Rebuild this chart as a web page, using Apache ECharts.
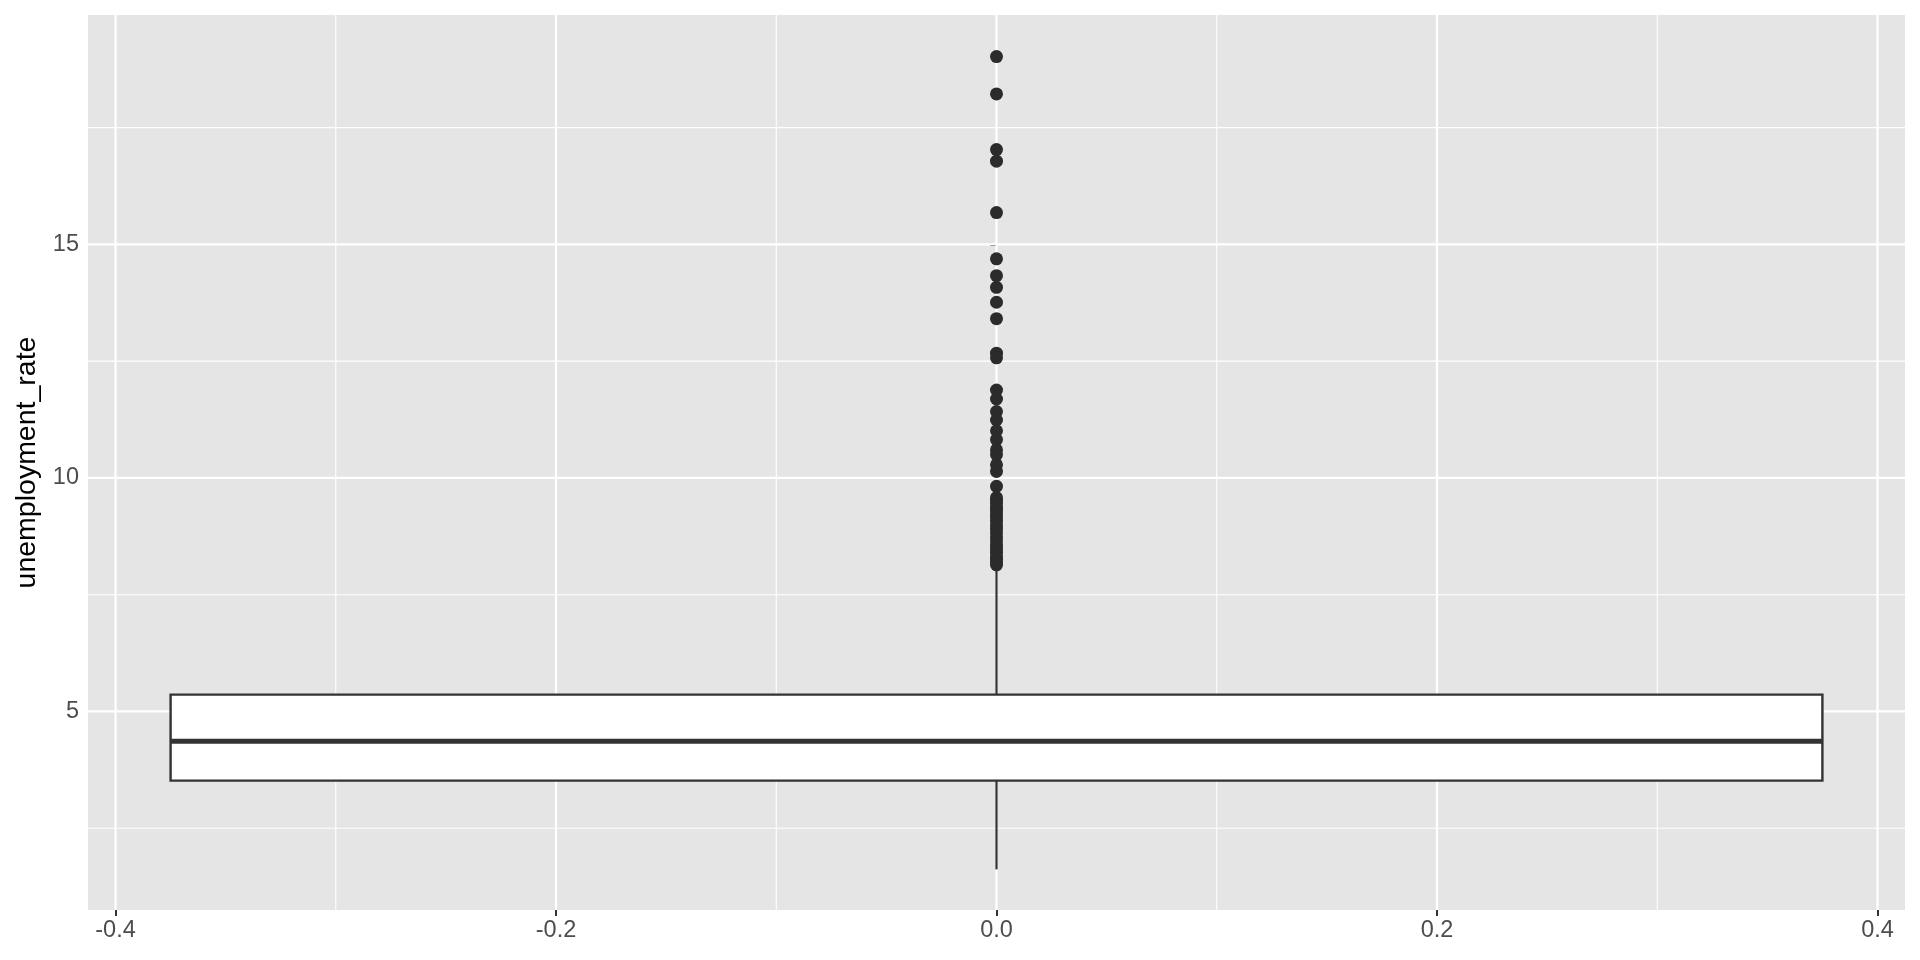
<!DOCTYPE html>
<html><head><meta charset="utf-8">
<script src="https://cdn.jsdelivr.net/npm/echarts@6/dist/echarts.min.js"></script>
<style>html,body{margin:0;padding:0;background:#fff}#c{width:1920px;height:960px}</style>
</head><body><div id="c"></div><script>
// box statistics: lower whisker, Q1, median, Q3, upper whisker
const boxStats = [1.62, 3.52, 4.36, 5.36, 8.05];
const boxX = 0;
const outliers = [19.02, 18.22, 17.03, 16.78, 15.68, 14.69, 14.33, 14.08, 13.76, 13.41,
  12.67, 12.57, 11.88, 11.69, 11.42, 11.24, 11.01, 10.82, 10.60, 10.50, 10.28, 10.14, 9.82,
  9.58, 9.52, 9.45, 9.38, 9.31, 9.22, 9.15, 9.07, 8.98, 8.91, 8.83, 8.74, 8.66, 8.57, 8.49,
  8.41, 8.33, 8.26, 8.19, 8.14];
const xTicks = [-0.4, -0.2, 0, 0.2, 0.4];
const xMinor = [-0.3, -0.1, 0.1, 0.3];
const yTicks = [5, 10, 15];
const yMinor = [2.5, 7.5, 12.5, 17.5];
const yTitle = 'unemployment_rate';

const FONT = '"Liberation Sans", Arial, Helvetica, sans-serif';
const chart = echarts.init(document.getElementById('c'), null, {renderer: 'canvas'});

const gridData = [];
xTicks.forEach(v => gridData.push(['x', v, 'major']));
xMinor.forEach(v => gridData.push(['x', v, 'minor']));
yTicks.forEach(v => gridData.push(['y', v, 'major']));
yMinor.forEach(v => gridData.push(['y', v, 'minor']));

chart.setOption({
  animation: false,
  backgroundColor: '#ffffff',
  grid: {left: 88, right: 15, top: 15, bottom: 50, show: true, backgroundColor: '#E5E5E5', borderWidth: 0},
  xAxis: {
    type: 'value', min: -0.4125, max: 0.4125,
    axisLine: {show: false},
    splitLine: {show: false},
    axisTick: {show: true, customValues: xTicks, length: 6, lineStyle: {color: '#333333', width: 2}},
    axisLabel: {customValues: xTicks, color: '#4D4D4D', fontSize: 23.5, fontFamily: FONT, margin: 9,
      formatter: v => v.toFixed(1)}
  },
  yAxis: {
    type: 'value', min: 0.75, max: 19.91,
    name: yTitle, nameLocation: 'middle', nameGap: 46, nameRotate: 90,
    nameTextStyle: {color: '#000000', fontSize: 28.5, fontFamily: FONT},
    axisLine: {show: false},
    splitLine: {show: false},
    axisTick: {show: true, customValues: yTicks, length: 6, lineStyle: {color: '#333333', width: 2}},
    axisLabel: {customValues: yTicks, color: '#4D4D4D', fontSize: 23.5, fontFamily: FONT, margin: 9,
      formatter: v => String(v)}
  },
  series: [
    {
      type: 'custom', silent: true, z: 1,
      data: gridData.map((d, i) => [i]),
      renderItem: (params, api) => {
        const d = gridData[params.dataIndex];
        const cs = params.coordSys;
        const w = d[2] === 'major' ? 2.2 : 1.1;
        if (d[0] === 'x') {
          const x = api.coord([d[1], 0])[0];
          return {type: 'line', shape: {x1: x, y1: cs.y, x2: x, y2: cs.y + cs.height},
            style: {stroke: '#ffffff', lineWidth: w}};
        }
        const y = api.coord([0, d[1]])[1];
        return {type: 'line', shape: {x1: cs.x, y1: y, x2: cs.x + cs.width, y2: y},
          style: {stroke: '#ffffff', lineWidth: w}};
      }
    },
    {
      type: 'custom', silent: true, z: 2,
      data: [[boxX].concat(boxStats)],
      renderItem: (params, api) => {
        const xc = api.value(0);
        const lo = api.value(1), q1 = api.value(2), med = api.value(3), q3 = api.value(4), hi = api.value(5);
        const pL = api.coord([xc - 0.375, q3]);
        const pR = api.coord([xc + 0.375, q1]);
        const pc = api.coord([xc, med]);
        const yLo = api.coord([xc, lo])[1], yHi = api.coord([xc, hi])[1];
        const stroke = '#333333';
        return {type: 'group', children: [
          {type: 'line', shape: {x1: pc[0], y1: pL[1], x2: pc[0], y2: yHi}, style: {stroke, lineWidth: 2.2}},
          {type: 'line', shape: {x1: pc[0], y1: pR[1], x2: pc[0], y2: yLo}, style: {stroke, lineWidth: 2.2}},
          {type: 'rect', shape: {x: pL[0], y: pL[1], width: pR[0] - pL[0], height: pR[1] - pL[1]},
            style: {fill: '#ffffff', stroke, lineWidth: 2.4}},
          {type: 'line', shape: {x1: pL[0], y1: pc[1], x2: pR[0], y2: pc[1]}, style: {stroke, lineWidth: 5}}
        ]};
      }
    },
    {
      type: 'scatter', z: 3, symbol: 'circle', symbolSize: 13,
      itemStyle: {color: '#2B2B2B', opacity: 1},
      data: outliers.map(v => [boxX, v])
    }
  ]
});
</script></body></html>
